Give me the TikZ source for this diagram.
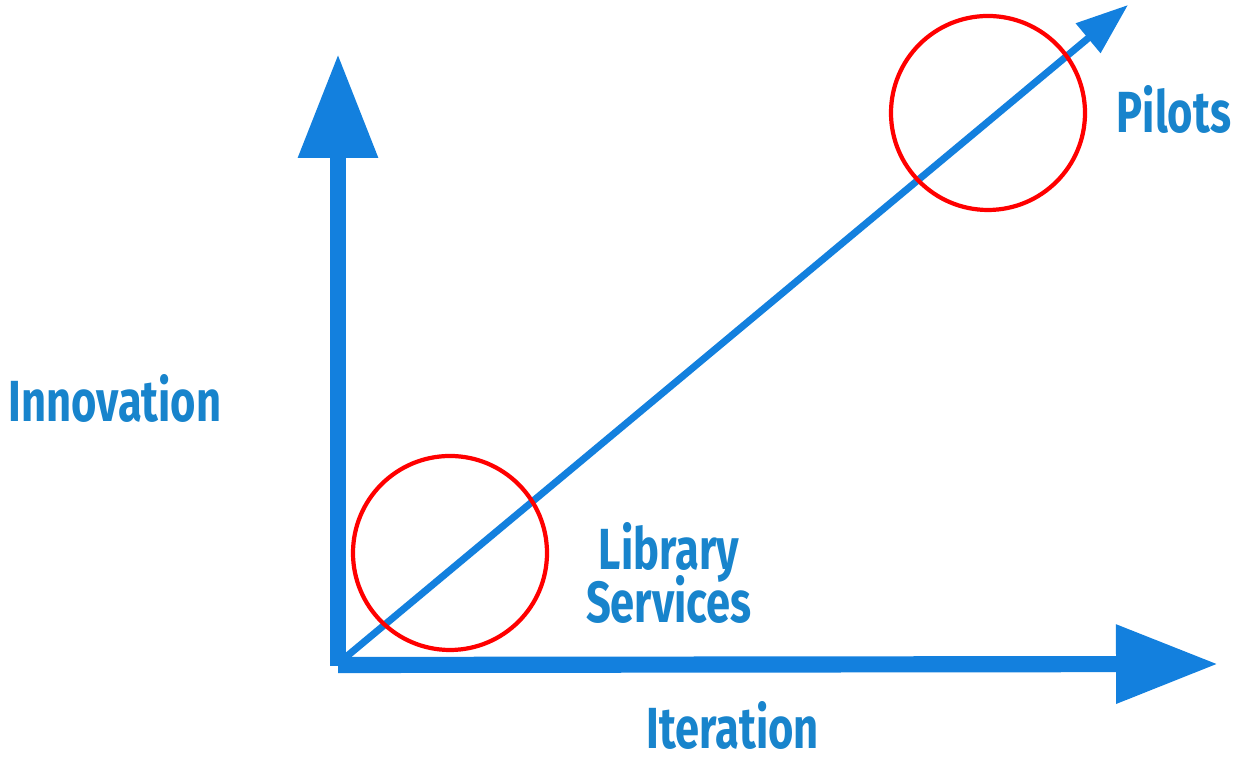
\documentclass[tikz,border=0pt]{standalone}
\usepackage{fontspec}
\newfontfamily\labelfont{Fira Sans}[FakeStretch=0.75]
\usetikzlibrary{arrows.meta}
\definecolor{axisblue}{RGB}{19,128,222}
\definecolor{labelblue}{RGB}{24,132,204}
\tikzset{
  axis/.style={draw=axisblue, line width=4.6pt},
  trend/.style={draw=axisblue, line width=2pt},
  ring/.style={draw=red, line width=1.2pt},
  lbl/.style={text=labelblue, font=\labelfont\bfseries\fontsize{16.5}{18}\selectfont, anchor=base, inner sep=0pt}
}
\begin{document}
\begin{tikzpicture}
  \useasboundingbox (0,0) rectangle (12.38,7.57);
  % axes and the trend line
  \coordinate (vbot) at (3.38,0.91);
  \coordinate (vtop) at (3.38,7.03);
  \coordinate (hleft) at (3.38,0.92);
  \coordinate (hright) at (12.18,0.93);
  \coordinate (dstart) at (3.40,0.95);
  \coordinate (dend) at (11.28,7.52);
  \draw[axis, -{Triangle[length=1.04cm, width=0.76cm]}] (vbot) -- (vtop);
  \draw[axis, -{Triangle[length=1.02cm, width=0.75cm]}] (hleft) -- (hright);
  \draw[trend, -{Triangle[length=0.52cm, width=0.37cm]}] (dstart) -- (dend);
  % the two highlighted spots
  \draw[ring] (4.50,2.04) circle (0.97);
  \draw[ring] (9.88,6.44) circle (0.97);
  % labels
  \node[lbl] (innov) at (1.15,3.35) {Innovation};
  \node[lbl] (iter) at (7.33,0.08) {Iteration};
  \node[lbl] (lib) at (6.69,1.87) {Library};
  \node[lbl] (serv) at (6.69,1.34) {Services};
  \node[lbl] (pilots) at (11.74,6.24) {Pilots};
\end{tikzpicture}
\end{document}
